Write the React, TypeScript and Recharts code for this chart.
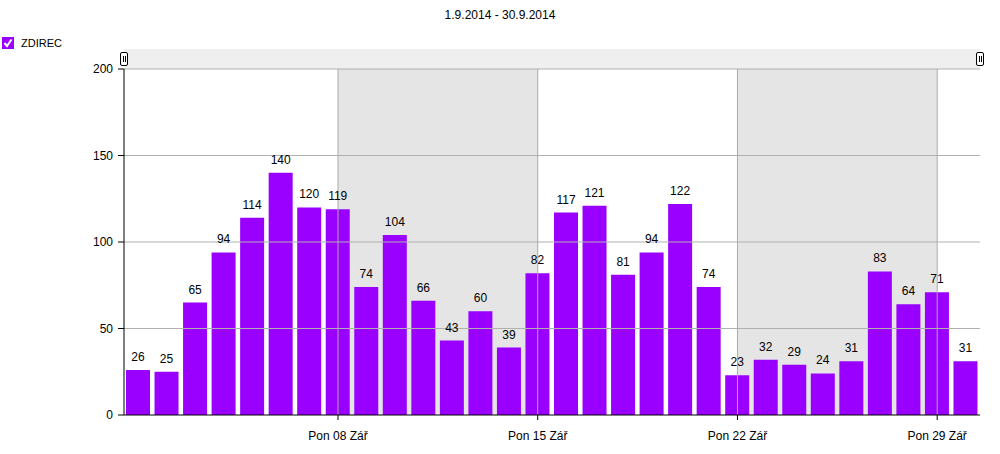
import { BarChart, Bar, XAxis, YAxis, ReferenceArea, ReferenceLine, LabelList } from 'recharts';

const days = [
  1, 2, 3, 4, 5, 6, 7, 8, 9, 10, 11, 12, 13, 14, 15,
  16, 17, 18, 19, 20, 21, 22, 23, 24, 25, 26, 27, 28, 29, 30,
];
const zdirec = [
  26, 25, 65, 94, 114, 140, 120, 119, 74, 104, 66, 43, 60, 39, 82,
  117, 121, 81, 94, 122, 74, 23, 32, 29, 24, 31, 83, 64, 71, 31,
];
const weekTicks = [8, 15, 22, 29];
const weekLabels = ['Pon 08 Zář', 'Pon 15 Zář', 'Pon 22 Zář', 'Pon 29 Zář'];
const yTicks = [0, 50, 100, 150, 200];
const shadedWeeks = [
  [8, 15],
  [22, 29],
];

const data = days.map((d, i) => ({ day: d, value: zdirec[i] }));

const FONT = '"Liberation Sans", Arial, sans-serif';
const PURPLE = '#9900ff';

function Handle({ left }: { left: number }) {
  return (
    <div
      style={{
        position: 'absolute',
        left: left - 4,
        top: 52,
        width: 8,
        height: 14,
        border: '1px solid #000',
        borderRadius: 2,
        background: '#fff',
        boxSizing: 'border-box',
      }}
    >
      <div style={{ position: 'absolute', left: 1.5, top: 3, width: 1, height: 6, background: '#000' }} />
      <div style={{ position: 'absolute', left: 3.5, top: 3, width: 1, height: 6, background: '#000' }} />
    </div>
  );
}

export default function App() {
  return (
    <div style={{ position: 'absolute', left: 0, top: 0, width: 1000, height: 454, background: '#fff', fontFamily: FONT }}>
      <div style={{ position: 'absolute', left: 0, top: 8, width: 1000, textAlign: 'center', fontSize: 12, color: '#000' }}>
        1.9.2014 - 30.9.2014
      </div>
      <div style={{ position: 'absolute', left: 2, top: 37, display: 'flex', alignItems: 'center' }}>
        <svg width={12} height={12}>
          <rect x={0} y={0} width={12} height={12} fill={PURPLE} />
          <path d="M2.5 6 L5 9 L9.5 2.5" stroke="#fff" strokeWidth={2} fill="none" />
        </svg>
        <span style={{ marginLeft: 7, fontSize: 11, color: '#000' }}>ZDIREC</span>
      </div>
      <div style={{ position: 'absolute', left: 124, top: 49, width: 856, height: 20, background: '#efefef' }} />
      <BarChart
        width={1000}
        height={454}
        data={data}
        margin={{ top: 69, right: 20, bottom: 9, left: 0 }}
        style={{ position: 'absolute', left: 0, top: 0 }}
      >
        <XAxis
          dataKey="day"
          type="number"
          domain={[0.5, 30.5]}
          ticks={weekTicks}
          tickFormatter={(v) => weekLabels[weekTicks.indexOf(v)] ?? ''}
          axisLine={{ stroke: '#000' }}
          tickLine={{ stroke: '#000' }}
          tickSize={5}
          tickMargin={11}
          tick={{ fill: '#000', fontSize: 12, fontFamily: FONT }}
          height={30}
        />
        <YAxis
          domain={[0, 200]}
          ticks={yTicks}
          width={124}
          axisLine={{ stroke: '#000' }}
          tickLine={{ stroke: '#000' }}
          tickSize={6}
          tickMargin={5}
          tick={{ fill: '#000', fontSize: 12, fontFamily: FONT }}
        />
        {shadedWeeks.map(([a, b]) => (
          <ReferenceArea key={a} x1={a} x2={b} y1={0} y2={200} fill="#e5e5e5" fillOpacity={1} stroke="none" />
        ))}
        {yTicks.slice(1).map((t) => (
          <ReferenceLine key={'h' + t} y={t} stroke="#b0b0b0" strokeWidth={1} />
        ))}
        {weekTicks.map((t) => (
          <ReferenceLine key={'v' + t} x={t} stroke="#aaaaaa" strokeWidth={1} />
        ))}
        <Bar dataKey="value" fill={PURPLE} barSize={24} isAnimationActive={false}>
          <LabelList dataKey="value" position="top" offset={9} fill="#000" fontSize={12} fontFamily={FONT} />
        </Bar>
      </BarChart>
      <Handle left={124} />
      <Handle left={980} />
    </div>
  );
}
